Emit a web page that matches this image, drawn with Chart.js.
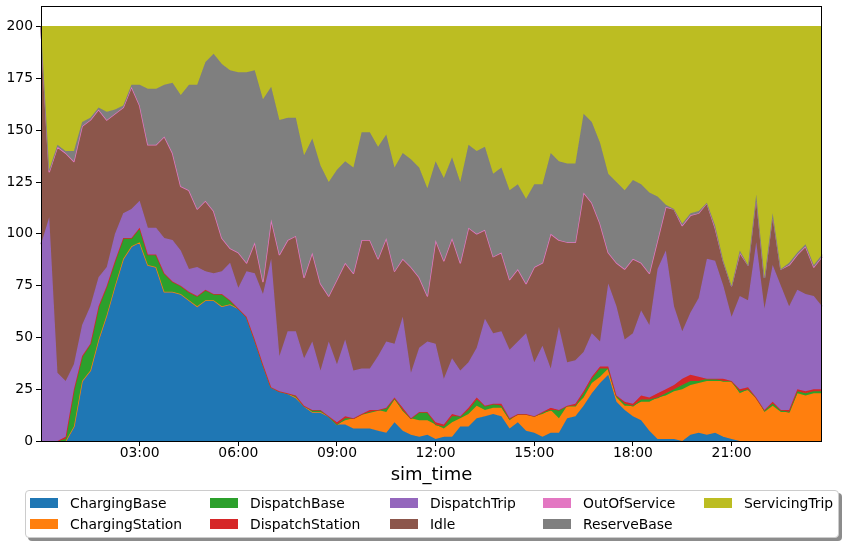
<!DOCTYPE html>
<html>
<head>
<meta charset="utf-8">
<script src="https://cdn.jsdelivr.net/npm/chart.js@4.4.1/dist/chart.umd.min.js"></script>
<style>
html,body{margin:0;padding:0;background:#fff;width:845px;height:545px;overflow:hidden;font-family:'DejaVu Sans',sans-serif}
#wrap{position:relative;width:845px;height:545px}
#c{position:absolute;left:0;top:0}
#legendBox{position:absolute;left:25px;top:490px;width:814px;height:48px;border:1px solid #cccccc;border-radius:4px;background:#fff;box-shadow:3px 3px 0 rgba(0,0,0,0.45);box-sizing:border-box}
.sw{position:absolute;width:28px;height:10px}
.lt{position:absolute;font-size:13.9px;line-height:16px;color:#000;white-space:nowrap}
</style>
</head>
<body>
<div id="wrap">
<canvas id="c" width="845" height="545"></canvas>
<div id="legendBox"></div>
<div id="legendItems"></div>
</div>
<script>
// ---- categories (time of day, 15-minute steps) ----
const timeLabels = [
"00:00","00:15","00:30","00:45","01:00","01:15","01:30","01:45","02:00","02:15","02:30","02:45",
"03:00","03:15","03:30","03:45","04:00","04:15","04:30","04:45","05:00","05:15","05:30","05:45",
"06:00","06:15","06:30","06:45","07:00","07:15","07:30","07:45","08:00","08:15","08:30","08:45",
"09:00","09:15","09:30","09:45","10:00","10:15","10:30","10:45","11:00","11:15","11:30","11:45",
"12:00","12:15","12:30","12:45","13:00","13:15","13:30","13:45","14:00","14:15","14:30","14:45",
"15:00","15:15","15:30","15:45","16:00","16:15","16:30","16:45","17:00","17:15","17:30","17:45",
"18:00","18:15","18:30","18:45","19:00","19:15","19:30","19:45","20:00","20:15","20:30","20:45",
"21:00","21:15","21:30","21:45","22:00","22:15","22:30","22:45","23:00","23:15","23:30","23:45"];

// ---- tick labels ----
const xTicks = ["03:00","06:00","09:00","12:00","15:00","18:00","21:00"];
const yTicks = [0,25,50,75,100,125,150,175,200];

// ---- series values (vehicle counts per state) ----
const chargingBase = [
0,0,0,0,7,29,34,49,61,75, 88,94,96,85,84,72,72,71,68,65, 68,68,65,66,64,60,49,37,26,24,
23,21,17,14,14,12,8,8,6,6, 6,5,4,9,5,3,2,3,1,2, 2,7,7,11,12,13,12,6,9,5,
4,2,4,4,11,12,17,23,28,32, 19,15,12,10,5,1,1,1,0,3, 4,3,4,2,1,0,0,0,0,0, 0,0,0,0,0,0];
const chargingStation = [
0,0,0,0,0,0,0,0,0,0, 0,0,0,0,0,0,0,0,0,0, 0,0,0,0,0,0,0,0,0,0,
0,0,0,0,0,0,0,2,5,7, 8,10,10,11,10,8,8,7,7,4, 7,4,6,6,3,3,4,4,4,8,
8,11,11,7,6,5,4,5,3,3, 2,2,5,9,14,20,21,23,25,24, 24,26,25,27,28,23,25,21,14,17, 14,14,23,22,23,23];
const dispatchBase = [
0,0,0,1,18,12,13,16,14,12, 10,4,7,5,6,9,5,4,4,5, 5,3,6,2,0,0,0,0,0,0,
0,1,0,1,1,0,0,1,0,0, 0,0,2,1,0,0,4,4,0,1, 3,1,2,3,2,2,1,1,0,0,
0,1,0,4,0,0,2,2,4,0, 1,1,0,1,1,0,1,1,2,2, 1,1,1,0,0,1,0,0,1,1, 1,0,1,1,1,1];
const dispatchStation = [
0,0,0,1,0,0,0,0,0,0, 0,0,0,0,0,0,0,0,0,0, 0,0,0,0,0,0,0,0,0,0,
0,0,0,0,0,0,1,1,0,0, 1,0,0,0,1,0,0,0,1,1, 1,0,1,1,0,0,1,0,0,0,
0,0,1,0,0,1,1,1,1,1, 0,1,1,2,1,2,2,2,3,3, 2,0,0,1,0,1,1,0,0,1, 0,1,1,1,1,1];
const dispatchTrip = [
95,108,33,27,12,15,18,14,9,13, 12,14,13,13,13,17,20,17,11,14, 9,10,11,18,10,22,32,34,62,17,
30,31,23,33,19,36,28,37,23,22, 20,26,32,26,44,22,31,34,38,22, 27,22,22,24,42,34,35,33,35,39,
26,32,19,40,21,21,19,21,12,40, 43,30,34,41,35,60,67,38,23,30, 38,58,57,45,31,45,42,75,49,66, 60,50,48,47,45,40];
const idle = [
105,22,109,110,98,96,90,81,71,58, 51,59,46,40,40,49,42,31,38,28, 34,30,16,7,17,4,15,6,19,49,
44,46,39,43,42,22,41,37,47,62, 62,47,50,35,28,51,34,22,50,57, 58,52,65,55,43,37,38,34,35,24,
46,40,65,42,58,57,77,63,57,15, 21,34,36,23,25,14,21,47,51,47, 41,27,16,12,15,21,17,23,15,25, 8,20,17,23,14,24];
const outOfService = [
0,0,0,0,0,0,0,0,0,0, 0,0,0,0,0,0,0,0,0,0, 0,0,0,0,0,0,0,0,0,0,
0,0,0,0,0,0,0,0,0,0, 0,0,0,0,0,0,0,0,0,0, 0,0,0,0,0,0,0,0,0,0,
0,0,0,0,0,0,0,0,0,0, 0,0,0,0,0,0,0,0,0,0, 0,0,0,0,0,0,0,0,0,0, 0,0,0,0,0,0];
const reserveBase = [
0,1,1,1,5,2,1,1,4,2, 1,1,10,27,27,25,34,44,51,60, 67,76,84,86,87,92,83,88,64,65,
59,57,59,55,57,55,53,49,51,52, 52,54,50,50,51,52,53,52,38,40, 39,39,40,40,40,40,41,43,41,41,
40,38,39,38,38,38,38,39,39,38, 39,38,38,38,39,21,1,0,1,1, 1,0,1,0,0,1,0,0,0,0, 0,1,1,1,1,1];
const servicingTrip = [
0,69,57,60,60,46,44,39,41,40, 38,28,28,30,30,28,27,33,28,28, 17,13,18,21,22,22,21,35,29,45,
44,44,62,54,67,75,69,65,68,51, 51,58,52,68,61,64,68,78,65,73, 63,75,57,60,58,71,68,79,76,83,
76,76,61,65,66,66,42,46,56,71, 75,79,74,76,80,82,86,88,95,90, 89,85,96,113,125,108,115,81,121,90, 117,114,109,105,115,110];

const seriesNames = ["ChargingBase","ChargingStation","DispatchBase","DispatchStation","DispatchTrip","Idle","OutOfService","ReserveBase","ServicingTrip"];
const seriesValues = [chargingBase,chargingStation,dispatchBase,dispatchStation,dispatchTrip,idle,outOfService,reserveBase,servicingTrip];
const seriesColors = ["#1f77b4","#ff7f0e","#2ca02c","#d62728","#9467bd","#8c564b","#e377c2","#7f7f7f","#bcbd22"];

// stacked (cumulative) tops, drawn with later series' edges on top like the original
let running = timeLabels.map(() => 0);
const datasets = seriesValues.map((vals, k) => {
  running = running.map((v, j) => v + vals[j]);
  return {
    label: seriesNames[k],
    data: running.slice(),
    fill: k === 0 ? 'origin' : '-1',
    backgroundColor: seriesColors[k],
    borderColor: seriesColors[k],
    borderWidth: 1.5,
    borderJoinStyle: 'round',
    pointRadius: 0,
    tension: 0,
    order: seriesValues.length - 1 - k
  };
});

const framePlugin = {
  id: 'frame',
  afterDraw(chart) {
    const {ctx, chartArea: a} = chart;
    ctx.save();
    ctx.strokeStyle = '#000';
    ctx.lineWidth = 1;
    ctx.strokeRect(Math.round(a.left) + 0.5, Math.round(a.top) + 0.5,
                   Math.round(a.right) - Math.round(a.left) - 1, Math.round(a.bottom) - Math.round(a.top));
    ctx.restore();
  }
};

const tickFont = {family: "'DejaVu Sans', sans-serif", size: 13.9};

new Chart(document.getElementById('c'), {
  type: 'line',
  data: {labels: timeLabels, datasets},
  plugins: [framePlugin],
  options: {
    responsive: false,
    animation: false,
    devicePixelRatio: 1,
    layout: {padding: {left: 0, right: 23, top: 6, bottom: 59}},
    plugins: {legend: {display: false}, tooltip: {enabled: false}, filler: {propagate: false}},
    scales: {
      x: {
        type: 'category',
        offset: false,
        border: {display: false},
        grid: {display: true, drawOnChartArea: false, drawTicks: true, tickLength: 5, tickColor: '#000', tickWidth: 1},
        ticks: {autoSkip: false, maxRotation: 0, minRotation: 0, padding: -1, color: '#000', font: tickFont},
        title: {display: true, text: 'sim_time', color: '#000', font: {family: "'DejaVu Sans', sans-serif", size: 18}, padding: {top: 0, bottom: 0}},
        afterBuildTicks: (s) => { s.ticks = xTicks.map(t => ({value: timeLabels.indexOf(t)})); },
        afterFit: (s) => { s.height = 45; s.paddingLeft = 0; s.paddingRight = 0; }
      },
      y: {
        min: 0,
        max: 210,
        border: {display: false},
        grid: {display: true, drawOnChartArea: false, drawTicks: true, tickLength: 5, tickColor: '#000', tickWidth: 1},
        ticks: {padding: 3, color: '#000', font: tickFont},
        afterBuildTicks: (s) => { s.ticks = yTicks.map(v => ({value: v})); },
        afterFit: (s) => { s.width = 41; s.paddingTop = 0; s.paddingBottom = 0; }
      }
    }
  }
});

// ---- legend (5 columns, filled column by column) ----
const legendCols = [30, 210, 390, 543, 704];
const legendRows = [498, 519];
const holder = document.getElementById('legendItems');
seriesNames.forEach((name, k) => {
  const col = Math.floor(k / 2), row = k % 2;
  const x = legendCols[col], y = legendRows[row];
  const sw = document.createElement('div');
  sw.className = 'sw';
  sw.style.left = x + 'px';
  sw.style.top = y + 'px';
  sw.style.background = seriesColors[k];
  holder.appendChild(sw);
  const t = document.createElement('div');
  t.className = 'lt';
  t.style.left = (x + 40) + 'px';
  t.style.top = (y + 5 - 8) + 'px';
  t.textContent = name;
  holder.appendChild(t);
});
</script>
</body>
</html>
